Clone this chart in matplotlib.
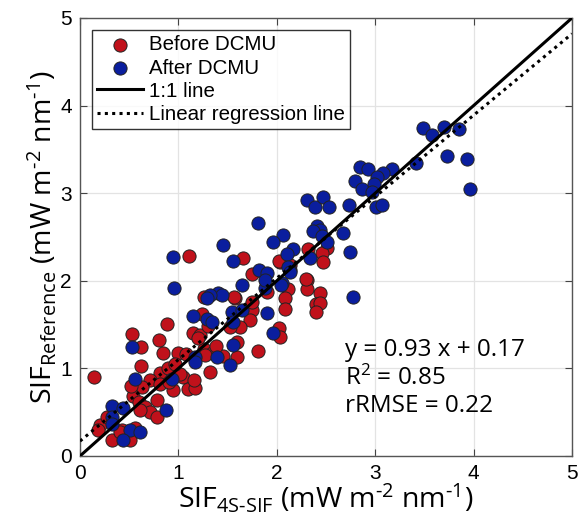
import numpy as np
import matplotlib
matplotlib.use("Agg")
import matplotlib.pyplot as plt

# SIF values (x = 4S-SIF, y = reference)
before_x = [0.14, 0.20, 0.18, 0.33, 0.43, 0.51, 0.56, 0.41, 0.53, 0.62, 0.62, 0.80,
            0.84, 1.00, 1.08, 1.26, 1.15, 0.81, 0.71, 0.63, 0.54, 0.60, 0.66, 0.71,
            0.78, 0.78, 0.61, 0.95, 1.05, 1.10, 1.17, 1.16, 1.02, 1.32, 0.88, 1.24,
            1.22, 1.26, 1.58, 1.11, 1.75, 1.73, 1.63, 1.60, 1.81, 1.60, 1.45, 1.34,
            1.27, 2.02, 1.52, 2.31, 2.44, 2.40, 2.11, 2.08, 2.08, 2.44, 2.40, 2.03,
            2.03, 2.32, 2.51, 2.46, 2.47, 2.31, 1.66, 2.02, 1.75, 2.13, 2.30, 1.90,
            1.57, 1.75, 0.81, 0.27, 0.52, 0.89, 1.20, 1.30, 1.38, 0.97, 0.90]
before_y = [0.90, 0.35, 0.30, 0.18, 0.30, 0.18, 0.32, 0.27, 1.39, 1.24, 1.03, 1.32,
            1.18, 1.18, 1.16, 1.22, 1.40, 0.95, 0.87, 0.79, 0.68, 0.62, 0.56, 0.50,
            0.64, 0.45, 0.53, 0.75, 0.90, 0.76, 0.78, 0.87, 0.94, 0.96, 1.51, 1.62,
            1.38, 1.82, 1.80, 2.28, 1.67, 1.55, 1.47, 1.30, 1.20, 1.13, 1.14, 1.18,
            1.15, 1.46, 1.47, 2.01, 1.86, 1.74, 1.91, 1.80, 1.68, 1.75, 1.64, 1.36,
            2.21, 2.36, 2.37, 2.32, 2.21, 1.91, 2.26, 2.23, 2.08, 2.18, 2.02, 1.87,
            1.82, 1.76, 0.82, 0.45, 0.80, 1.00, 1.35, 1.48, 1.25, 1.05, 0.85]

after_x = [3.49, 3.58, 3.70, 3.85, 3.73, 3.93, 3.96, 3.41, 2.85, 2.93, 3.17, 3.08,
           3.02, 2.79, 2.87, 2.99, 2.97, 3.01, 3.07, 2.31, 2.39, 2.47, 2.53, 2.73,
           2.41, 2.44, 2.37, 2.67, 2.46, 2.74, 2.77, 2.51, 2.16, 2.10, 2.06, 2.34,
           2.13, 2.05, 1.81, 1.45, 1.96, 1.55, 2.11, 2.13, 1.82, 1.90, 1.65, 2.04,
           1.88, 1.40, 1.44, 1.32, 0.94, 0.96, 1.29, 1.15, 1.29, 1.34, 1.54, 1.65,
           1.55, 1.55, 1.88, 1.39, 1.17, 1.96, 1.90, 1.52, 0.53, 0.56, 0.33, 0.44,
           0.33, 0.32, 0.87, 0.51, 0.61, 0.44, 1.17, 0.93]
after_y = [3.74, 3.66, 3.76, 3.73, 3.42, 3.39, 3.05, 3.34, 3.30, 3.28, 3.28, 3.23,
           3.18, 3.14, 3.05, 3.10, 3.01, 2.84, 2.87, 2.92, 2.84, 2.96, 2.84, 2.87,
           2.63, 2.58, 2.57, 2.55, 2.51, 2.33, 1.81, 2.44, 2.36, 2.31, 2.52, 2.26,
           2.12, 1.97, 2.66, 2.41, 2.44, 2.23, 2.16, 2.10, 2.12, 2.09, 1.95, 1.95,
           1.92, 1.86, 1.84, 1.84, 2.27, 1.92, 1.80, 1.60, 1.56, 1.53, 1.64, 1.67,
           1.53, 1.27, 2.01, 1.13, 1.13, 1.40, 1.63, 1.04, 1.24, 0.88, 0.57, 0.55,
           0.45, 0.36, 0.53, 0.30, 0.27, 0.18, 1.07, 0.88]

slope, intercept = 0.93, 0.17
stats = ["y = 0.93 x + 0.17", "R$^{2}$ = 0.85", "rRMSE = 0.22"]

label_font = "Open Sans"
plt.rcParams["font.family"] = ["Liberation Sans", "DejaVu Sans"]
plt.rcParams["mathtext.fontset"] = "custom"
plt.rcParams["mathtext.rm"] = label_font
plt.rcParams["mathtext.it"] = label_font

fig = plt.figure(figsize=(5.79, 5.26), dpi=100)
ax = fig.add_axes([0.1382, 0.1331, 0.8497, 0.8327])

ax.scatter(before_x, before_y, s=90, c="#C0111B", edgecolors="#222222",
           linewidths=0.7, zorder=3, label="Before DCMU")
ax.scatter(after_x, after_y, s=90, c="#0A1E9E", edgecolors="#222222",
           linewidths=0.7, zorder=3, label="After DCMU")

xx = np.array([0, 5])
ax.plot(xx, xx, color="black", lw=2.2, zorder=4, label="1:1 line")
ax.plot(xx, slope * xx + intercept, color="black", lw=2.2, ls=(0, (1, 1.4)),
        zorder=4, label="Linear regression line")

ax.set_xlim(0, 5)
ax.set_ylim(0, 5)
ax.set_xticks(range(6))
ax.set_yticks(range(6))
ax.grid(True, color="#E3E3E3", lw=0.9, zorder=0)
ax.set_axisbelow(True)
ax.tick_params(direction="in", top=True, right=True, labelsize=15,
               length=5, color="#444444", pad=6)
for sp in ax.spines.values():
    sp.set_color("#555555")
    sp.set_linewidth(1.0)

unit = r" (mW m$^{\text{-2}}$ nm$^{\text{-1}}$)"
ax.set_xlabel(r"SIF$_{\text{4S-SIF}}$" + unit, fontsize=20.5, family=label_font,
              labelpad=-1)
ax.set_ylabel(r"SIF$_{\text{Reference}}$" + unit, fontsize=20.5, family=label_font,
              labelpad=1)

for i, t in enumerate(stats):
    ax.text(2.69, 1.21 - i * 0.32, t, fontsize=17.5, va="center", ha="left",
            family=label_font)

leg = ax.legend(loc="upper left", bbox_to_anchor=(0.0, 1.0), borderaxespad=0.6,
                prop={"family": "Liberation Sans", "size": 14.8}, frameon=True,
                fancybox=False, edgecolor="black", handlelength=2.2,
                handletextpad=0.3, borderpad=0.25, labelspacing=0.2)
leg.get_frame().set_linewidth(1.0)

fig.savefig("out.png", dpi=100)
